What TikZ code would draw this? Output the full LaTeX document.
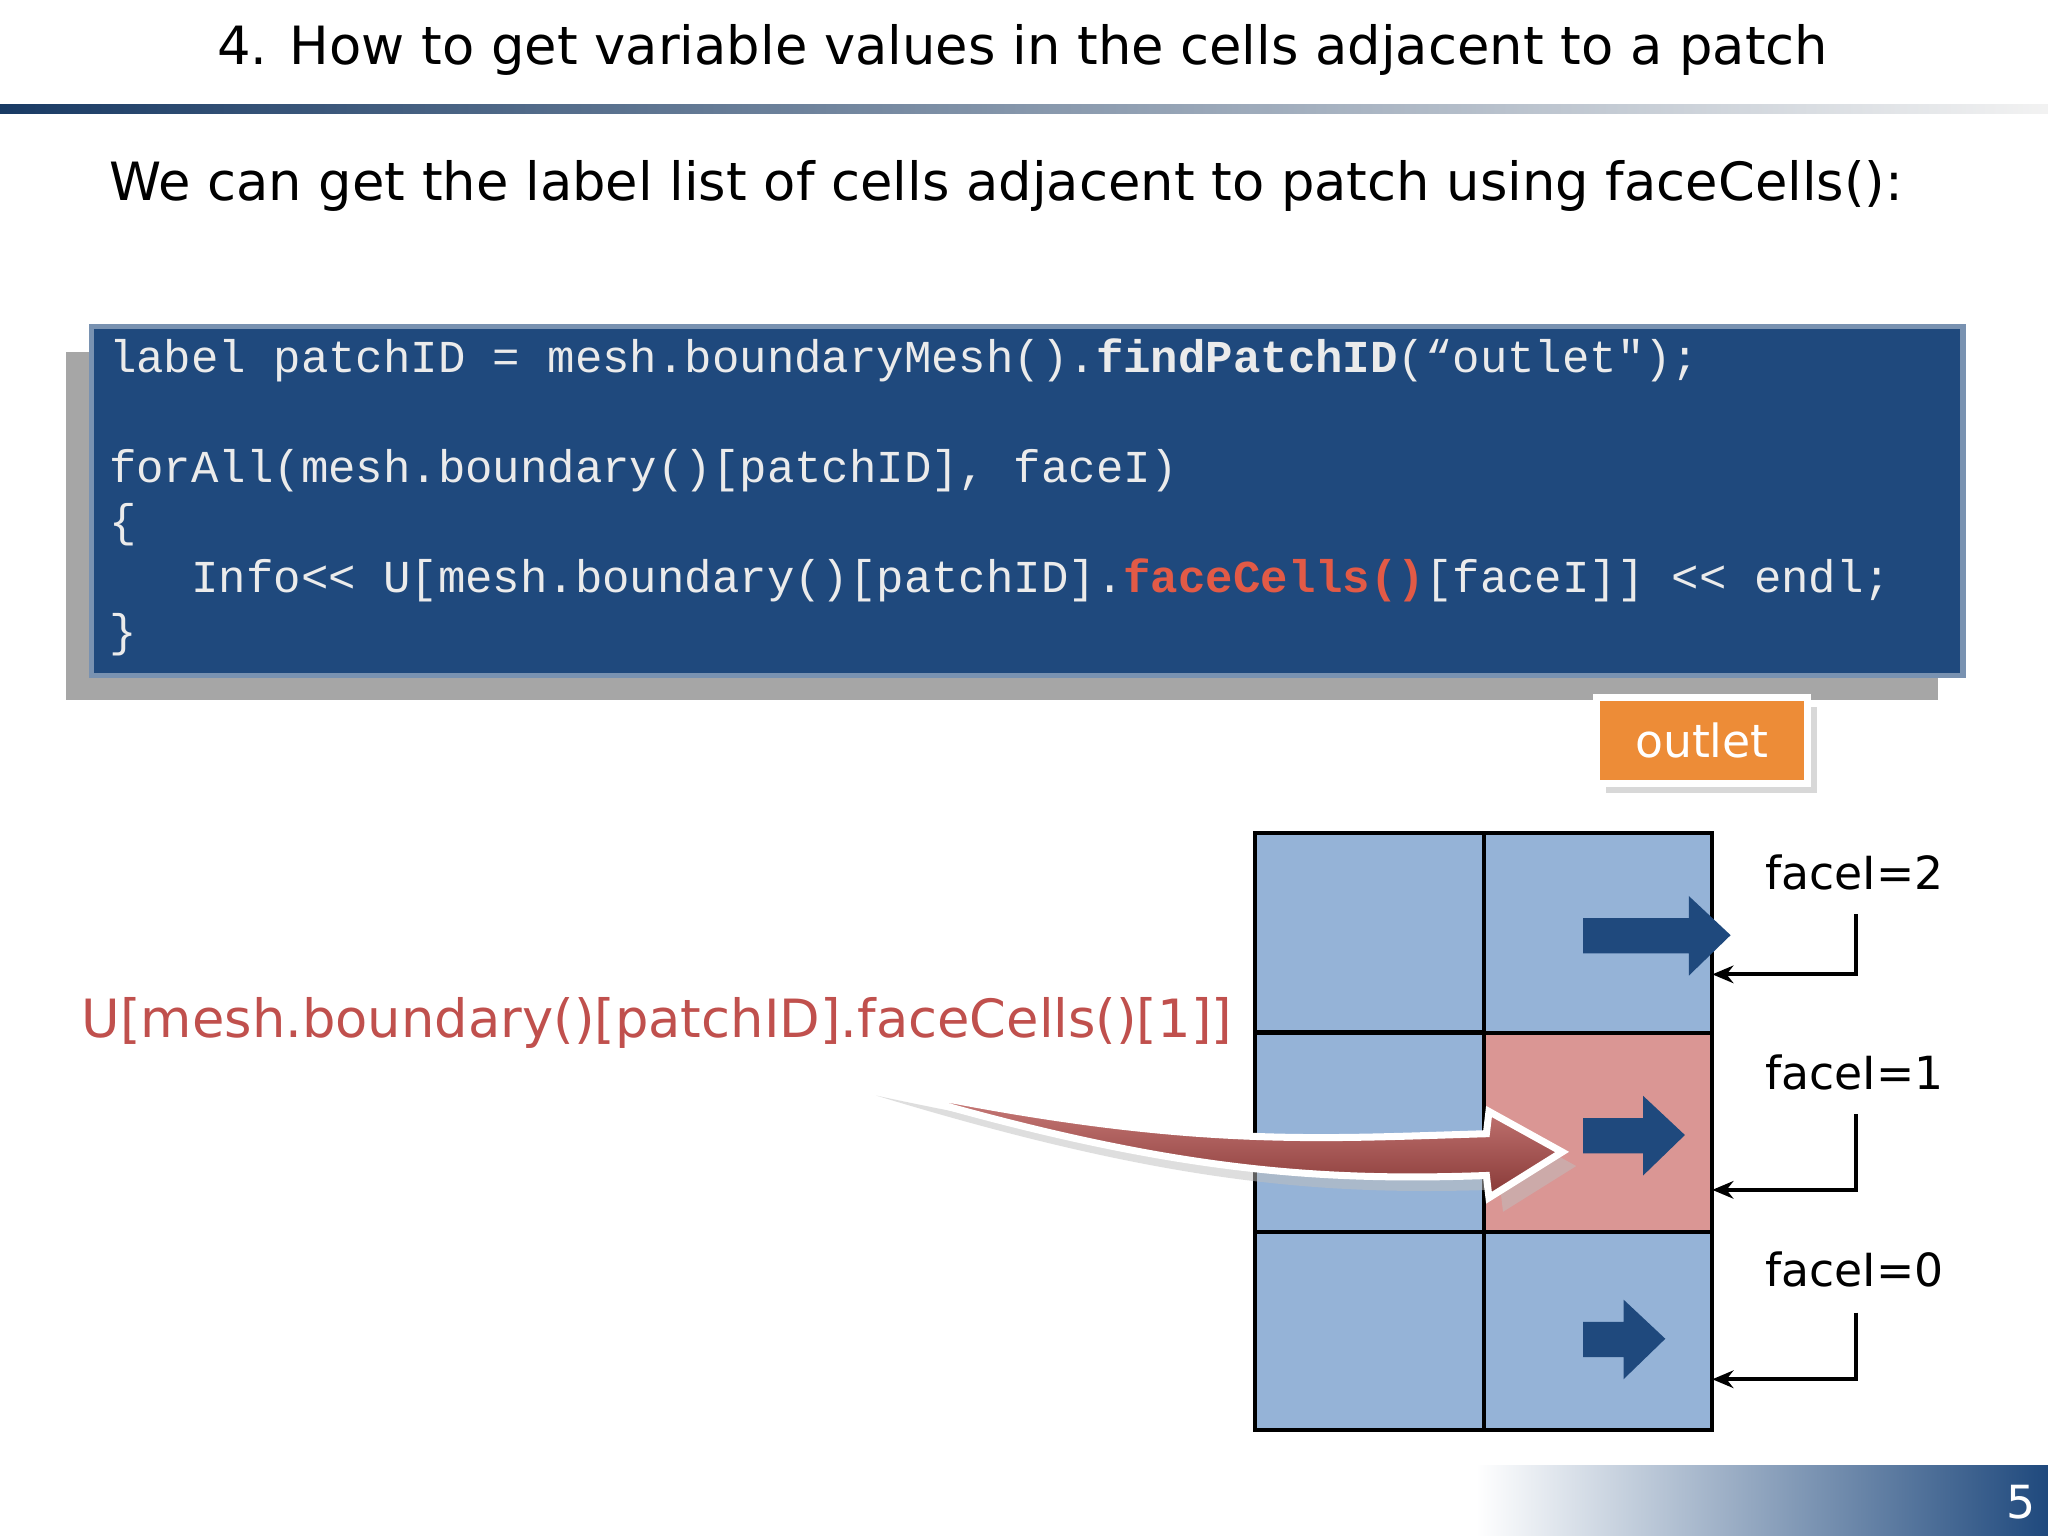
\documentclass[tikz,border=0pt]{standalone}
\usepackage{fontspec}
\setmainfont{DejaVu Sans}
\newfontfamily\codefont{Liberation Mono}
\usetikzlibrary{arrows.meta,shadows}
\definecolor{navy}{RGB}{31,73,125}
\definecolor{cellblue}{RGB}{149,179,215}
\definecolor{cellred}{RGB}{218,150,148}
\definecolor{redtxt}{RGB}{192,80,77}
\definecolor{codered}{RGB}{226,90,70}
\definecolor{orangebtn}{RGB}{237,140,55}
\tikzset{
  code/.style={anchor=west,text=white!92!black,font=\codefont\fontsize{13}{15}\selectfont,inner sep=0},
  face/.style={font=\fontsize{13}{15}\selectfont,inner sep=0},
  cell/.style={draw=black,line width=1.2pt},
  bluearrow/.style={fill=navy,draw=none},
  bracket/.style={line width=1.2pt,-{Stealth[length=6pt,width=5pt]}}
}
\begin{document}
\begin{tikzpicture}[x=0.01306cm,y=-0.01306cm]
\useasboundingbox (0,0) rectangle (1568,1176);
\fill[white] (0,0) rectangle (1568,1176);
% title
\node[font=\fontsize{15}{18}\selectfont,inner sep=0] (title) at (783,38) {4. How to get variable values in the cells adjacent to a patch};
\shade[left color=navy!80!black,right color=gray!10] (0,80) rectangle (1568,87);
\node[anchor=west,font=\fontsize{15}{18}\selectfont,inner sep=0] (sub) at (83,142) {We can get the label list of cells adjacent to patch using faceCells():};
% code box
\node[draw=navy!60!white,line width=1.5pt,fill=navy,minimum width=1433*0.01306cm,minimum height=267*0.01306cm,anchor=north west,inner sep=0,
  drop shadow={shadow xshift=-0.25cm,shadow yshift=-0.25cm,opacity=0.35,fill=black}] (box) at (68,248) {};
\node[code] (l1) at (83,276) {label patchID = mesh.boundaryMesh().\textbf{findPatchID}(“outlet");};
\node[code] (l2) at (83,360) {forAll(mesh.boundary()[patchID], faceI)};
\node[code] (l3) at (83,402) {\{};
\node[code] (l4) at (83,444) {\ \ \ Info<< U[mesh.boundary()[patchID].\textcolor{codered}{\textbf{faceCells()}}[faceI]] << endl;};
\node[code] (l5) at (83,486) {\}};
% outlet button
\node[draw=white,line width=2pt,fill=orangebtn,text=white,minimum width=162*0.01306cm,minimum height=66*0.01306cm,
  font=\fontsize{13}{15}\selectfont,drop shadow={opacity=0.3}] (outlet) at (1303,567) {outlet};
% grid
\foreach \r/\y in {0/638,1/791,2/943}{
  \draw[cell,fill=cellblue] (961,\y) rectangle +(175,152);
}
\draw[cell,fill=cellblue] (1136,638) rectangle (1311,791);
\draw[cell,fill=cellred] (1136,791) rectangle (1311,943);
\draw[cell,fill=cellblue] (1136,943) rectangle (1311,1095);
% blue arrows
\fill[bluearrow] (1212,703)--(1293,703)--(1293,686)--(1325,716)--(1293,747)--(1293,730)--(1212,730)--cycle;
\fill[bluearrow] (1212,856)--(1258,856)--(1258,839)--(1290,869)--(1258,900)--(1258,883)--(1212,883)--cycle;
\fill[bluearrow] (1212,1012)--(1243,1012)--(1243,995)--(1275,1025)--(1243,1056)--(1243,1039)--(1212,1039)--cycle;
% face labels
\node[face] (f2) at (1420,668) {faceI=2};
\node[face] (f1) at (1420,821) {faceI=1};
\node[face] (f0) at (1420,972) {faceI=0};
\coordinate (e2) at (1311,746);
\coordinate (e1) at (1311,911);
\coordinate (e0) at (1311,1056);
\draw[bracket] (1421,700) |- (e2);
\draw[bracket] (1421,853) |- (e1);
\draw[bracket] (1421,1005) |- (e0);
% red expression
\node[anchor=west,text=redtxt,font=\fontsize{15}{18}\selectfont,inner sep=0] (expr) at (62,783) {U[mesh.boundary()[patchID].faceCells()[1]]};
% curved red arrow
\fill[gray!50,opacity=0.5,xshift=4,yshift=-4] (660,828) .. controls (900,880) and (1000,872) .. (1138,868) -- (1140,851) -- (1196,882) -- (1140,917) -- (1138,900) .. controls (1000,905) and (880,895) .. cycle;
\shade[draw=white,line width=2pt,top color=redtxt!70!white,bottom color=redtxt!70!black] (660,828) .. controls (900,880) and (1000,872) .. (1138,868) -- (1140,851) -- (1196,882) -- (1140,917) -- (1138,900) .. controls (1000,905) and (880,895) .. cycle;
% page number
\shade[left color=white,right color=navy] (1130,1122) rectangle (1568,1176);
\node[text=white,font=\fontsize{13}{15}\selectfont,inner sep=0] (pg) at (1547,1150) {5};
\end{tikzpicture}
\end{document}
